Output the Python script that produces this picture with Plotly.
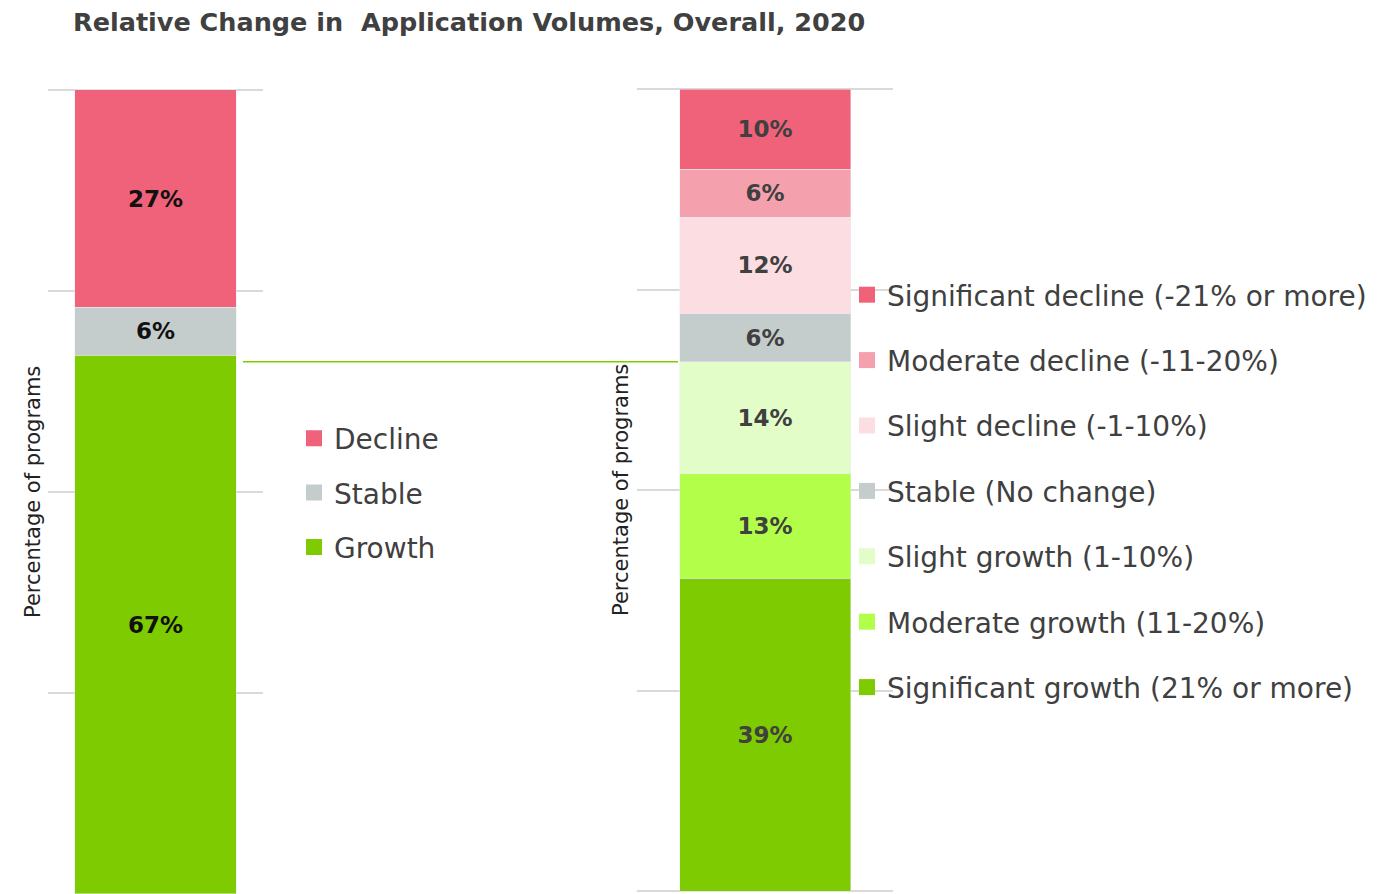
import plotly.graph_objects as go
from plotly.subplots import make_subplots

# overall split
overall_labels = ['Growth', 'Stable', 'Decline']
overall_values = [67, 6, 27]
overall_colors = ['#7dcb00', '#c5cdcc', '#f0627a']

# detailed split
detail_labels = ['Significant growth (21% or more)', 'Moderate growth (11-20%)', 'Slight growth (1-10%)',
                 'Stable (No change)', 'Slight decline (-1-10%)', 'Moderate decline (-11-20%)',
                 'Significant decline (-21% or more)']
detail_values = [39, 13, 14, 6, 12, 6, 10]
detail_colors = ['#7dcb00', '#b3fe48', '#e3fdc8', '#c5cdcc', '#fbdde2', '#f4a0ad', '#f0627a']

# page body adds an 8px margin, so the figure is a bit smaller and shifted
OFF = 8
W, H = 1378 - OFF, 894 - OFF
FONT = 'DejaVu Sans'


def px(x):
    return (x - OFF) / W


def py(y):
    return 1 - (y - OFF) / H


fig = make_subplots(rows=1, cols=2)

# left stacked bar
for lab, val, col in zip(overall_labels, overall_values, overall_colors):
    fig.add_trace(go.Bar(x=[0], y=[val], name=lab, marker_color=col, width=0.753,
                         text=[f'{val}%'], textposition='inside', insidetextanchor='middle',
                         textfont=dict(family=FONT, size=23, color='#111111', weight='bold'),
                         showlegend=False, hoverinfo='skip'), row=1, col=1)

# right stacked bar
for lab, val, col in zip(detail_labels, detail_values, detail_colors):
    fig.add_trace(go.Bar(x=[0], y=[val], name=lab, marker_color=col, width=0.668,
                         text=[f'{val}%'], textposition='inside', insidetextanchor='middle',
                         textfont=dict(family=FONT, size=23, color='#404040', weight='bold'),
                         showlegend=False, hoverinfo='skip'), row=1, col=2)

# legend entries (top to bottom)
for i, (lab, col) in enumerate(zip(overall_labels[::-1], overall_colors[::-1])):
    fig.add_trace(go.Scatter(x=[None], y=[None], mode='markers', name=lab,
                             marker=dict(symbol='square', size=16, color=col),
                             legend='legend', legendgroup=f'a{i}'), row=1, col=1)
for i, (lab, col) in enumerate(zip(detail_labels[::-1], detail_colors[::-1])):
    fig.add_trace(go.Scatter(x=[None], y=[None], mode='markers', name=lab,
                             marker=dict(symbol='square', size=16, color=col),
                             legend='legend2', legendgroup=f'b{i}'), row=1, col=2)

# connector line at the total growth level of the right bar
growth_total = sum(detail_values[:3])
fig.add_shape(type='line', xref='paper', yref='y2', x0=px(243), x1=px(678),
              y0=growth_total, y1=growth_total, line=dict(color='#7dcb00', width=1.5))

yax = dict(dtick=25, showticklabels=False, showgrid=True,
           gridcolor='#d9d9d9', gridwidth=2, zeroline=False, showline=False, ticks='')
xax = dict(range=[-0.5, 0.5], showticklabels=False, showgrid=False, zeroline=False, ticks='')

fig.update_layout(
    width=W, height=H,
    margin=dict(l=0, r=0, t=0, b=0),
    plot_bgcolor='white', paper_bgcolor='white',
    barmode='stack',
    font=dict(family=FONT, color='#404040'),
    title=dict(text='<b>Relative Change in  Application Volumes, Overall, 2020</b>',
               x=px(73), xanchor='left', y=py(22), yanchor='middle',
               font=dict(family=FONT, size=25.5, color='#404040')),
    xaxis=dict(xax, domain=[px(48), px(263)]),
    xaxis2=dict(xax, domain=[px(637), px(893)]),
    yaxis=dict(yax, range=[0, 100.3], domain=[0, py(90 - 0.3 * 8.04)]),
    yaxis2=dict(yax, range=[-0.3, 100.3], domain=[py(891 + 0.3 * 8.02), py(89 - 0.3 * 8.02)]),
    legend=dict(x=px(294), xanchor='left', y=py(493), yanchor='middle',
                traceorder='grouped', tracegroupgap=15, bgcolor='rgba(0,0,0,0)',
                font=dict(family=FONT, size=28, color='#404040')),
    legend2=dict(x=px(847), xanchor='left', y=py(491), yanchor='middle',
                 traceorder='grouped', tracegroupgap=26, bgcolor='rgba(0,0,0,0)',
                 font=dict(family=FONT, size=28, color='#404040')),
    annotations=[
        dict(text='Percentage of programs', xref='paper', yref='paper', x=px(33), y=py(492),
             xanchor='center', yanchor='middle', textangle=-90, showarrow=False,
             font=dict(family=FONT, size=21, color='#222222')),
        dict(text='Percentage of programs', xref='paper', yref='paper', x=px(621), y=py(490),
             xanchor='center', yanchor='middle', textangle=-90, showarrow=False,
             font=dict(family=FONT, size=21, color='#222222')),
    ],
)

fig.write_html("out.html")
